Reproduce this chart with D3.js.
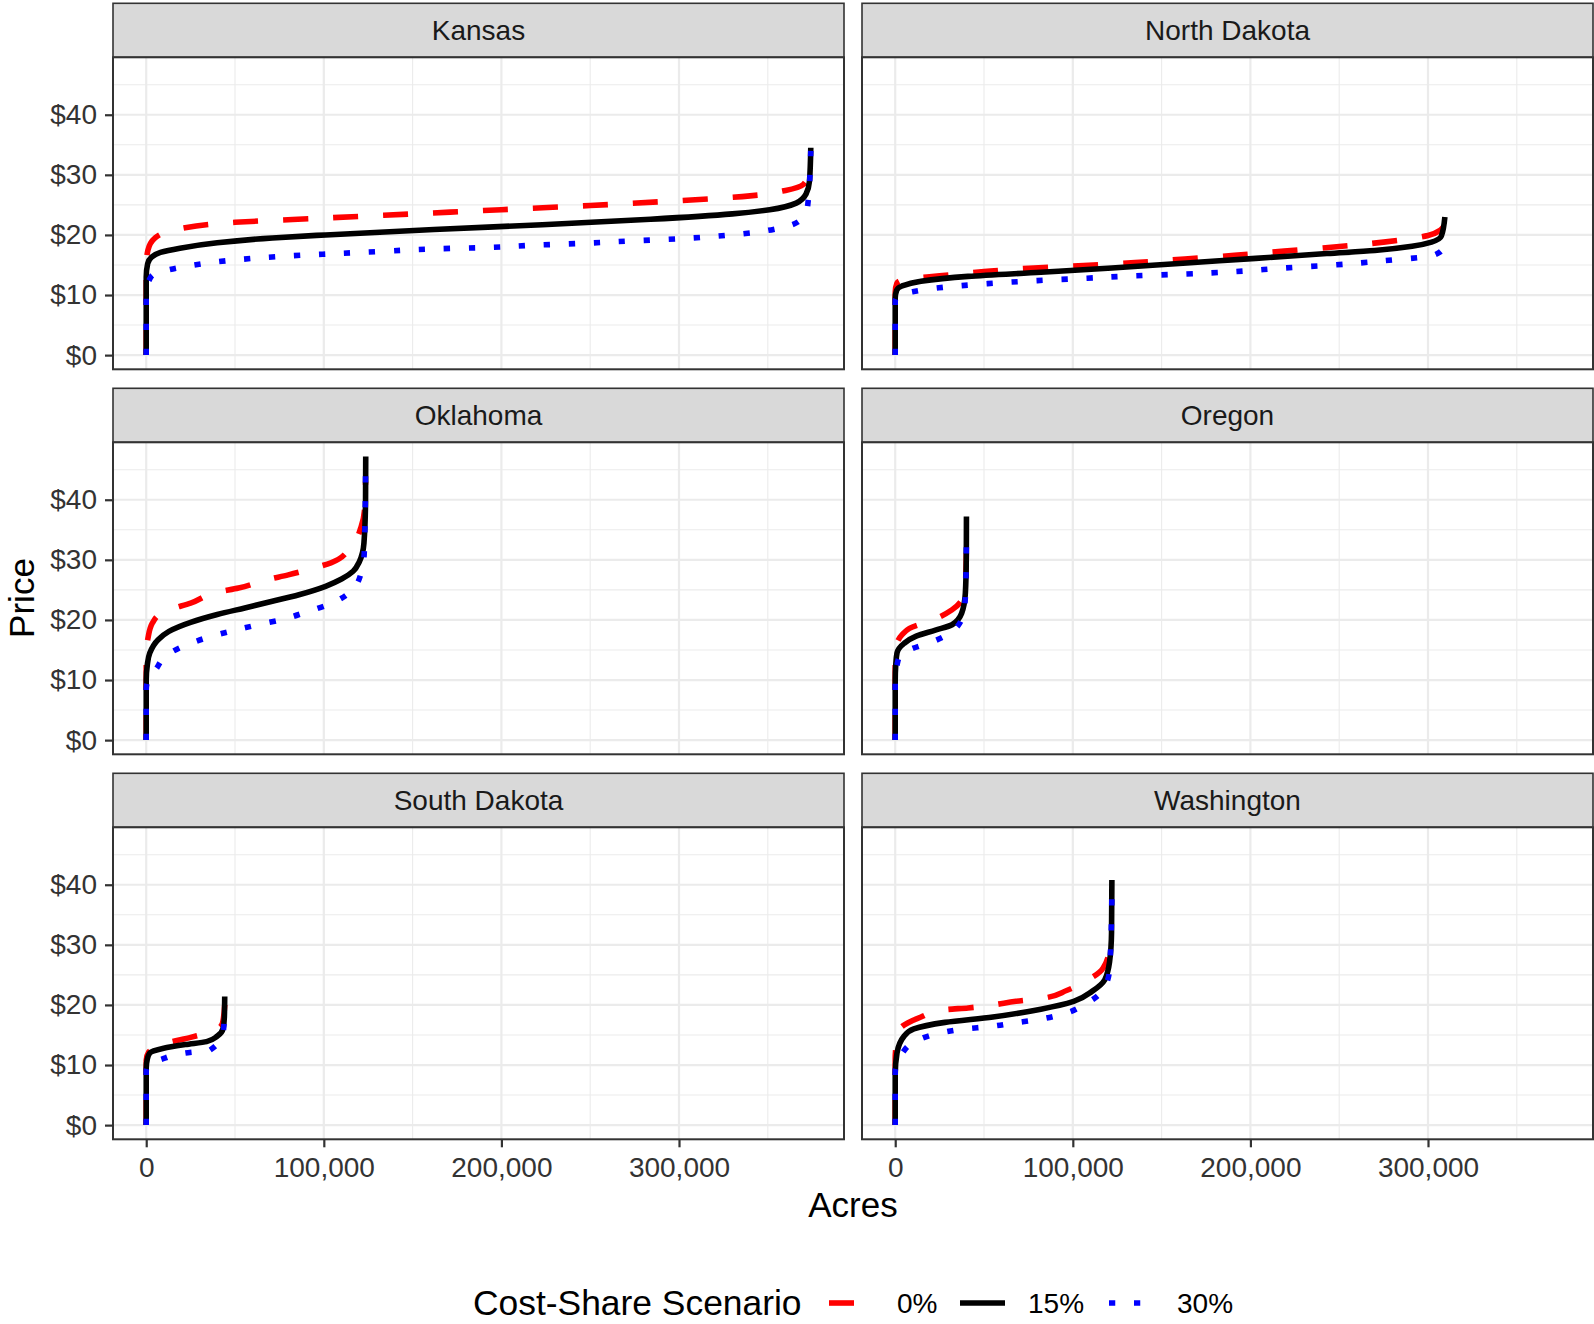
<!DOCTYPE html>
<html>
<head>
<meta charset="utf-8">
<script src="https://cdn.jsdelivr.net/npm/d3@7"></script>
<style>
  html, body { margin: 0; padding: 0; background: #fff; }
  svg { display: block; }
  text { font-family: "Liberation Sans", Arial, Helvetica, sans-serif; }
</style>
</head>
<body>
<svg id="chart" width="1594" height="1324"></svg>
<script>
// ---------------- DATA ----------------
const states = ["Kansas", "North Dakota", "Oklahoma", "Oregon", "South Dakota", "Washington"];
const scenarios = ["0%", "15%", "30%"];
const xTickValues = [0, 100000, 200000, 300000];
const xMinorValues = [50000, 150000, 250000, 350000];
const yTickValues = [0, 10, 20, 30, 40];
const yMinorValues = [5, 15, 25, 35, 45];

// [acres, price] pairs
const kansas_0 = [[0,0],[0,15],[1000,17.5],[5000,19.5],[20000,21.1],[50000,22.1],[100000,22.8],[150000,23.5],[200000,24.2],[250000,24.9],[300000,25.7],[340000,26.5],[360000,27.4],[370000,28.4],[373000,30],[374000,31]];
const kansas_15 = [[0,0],[0,13],[800,15.2],[3000,16.3],[8000,17.1],[19000,17.8],[40000,18.7],[71000,19.5],[101000,20],[162000,20.9],[223000,21.7],[284000,22.6],[330000,23.5],[351000,24.2],[366000,25.3],[371500,26.8],[373500,29],[374200,34.5]];
const kansas_30 = [[0,0],[0,11],[1500,12.4],[4000,13.4],[11000,14.1],[25000,14.9],[39000,15.5],[52000,15.9],[80000,16.5],[107000,16.9],[135000,17.3],[164000,17.7],[191000,17.9],[219000,18.3],[246000,18.6],[273000,19],[302000,19.4],[329000,20],[342000,20.4],[356000,21.1],[368000,22.4],[372500,25],[374200,34]];

const northDakota_0 = [[0,0],[0,10.5],[1000,12],[5000,12.6],[25000,13.2],[50000,13.9],[78000,14.5],[106000,14.9],[135000,15.4],[163000,16],[191000,16.6],[219000,17.3],[247000,18],[275000,18.8],[300000,19.9],[307000,20.8],[309000,21.5]];
const northDakota_15 = [[0,0],[0,9.5],[800,10.8],[3800,11.5],[14500,12.3],[41000,13.1],[82000,13.8],[122000,14.5],[162000,15.3],[203000,16.1],[243000,16.9],[270000,17.4],[291000,18.1],[302000,18.8],[307500,19.8],[309500,23]];
const northDakota_30 = [[0,0],[0,9],[2000,10],[10500,10.6],[24500,11.2],[52000,11.9],[80000,12.4],[108000,12.8],[135000,13.2],[164000,13.5],[191000,13.9],[219000,14.5],[247000,15],[275000,15.7],[303000,16.6],[308500,17.8],[310000,20]];

const oklahoma_0 = [[0,0],[0,14],[1000,17],[3500,19.5],[8000,21],[12800,21.7],[25000,22.8],[40000,24.6],[52000,25.3],[68000,26.7],[80000,27.5],[94000,28.6],[104000,29.5],[115000,32],[121000,35.5],[123000,38.5],[123500,43]];
const oklahoma_15 = [[0,0],[0,10],[600,12.5],[2000,14.5],[6700,16.7],[12800,18.1],[25000,19.6],[40000,20.9],[55500,22],[71000,23.1],[86000,24.2],[101000,25.6],[110000,26.8],[116500,28.1],[120000,29.7],[122600,32.8],[123500,40],[123600,47.2]];
const oklahoma_30 = [[0,0],[0,8.4],[1500,10.3],[5200,11.7],[12800,14.4],[24000,16],[37000,17.3],[50000,18.3],[63000,19.2],[77000,20.1],[90000,21.3],[103000,22.6],[115000,24.7],[121000,27.8],[122800,31.4],[123500,44]];

const oregon_0 = [[0,0],[0,14],[1000,16.1],[4000,17.6],[8000,18.6],[22000,20.1],[32000,21.7],[38500,24],[39700,27],[40100,33]];
const oregon_15 = [[0,0],[0,10],[300,12.5],[1000,14.5],[5000,16.1],[11800,17.3],[22600,18.3],[32000,19.2],[37400,21.1],[39500,24.5],[40000,30],[40100,37.2]];
const oregon_30 = [[0,0],[0,10],[1000,12.5],[3000,14.2],[8600,15.1],[22000,16.5],[33000,18.3],[38700,21.4],[39700,25.3],[40100,34]];

const southDakota_0 = [[0,0],[0,10.8],[1500,12.2],[6700,12.9],[11000,13.6],[25000,14.6],[39000,15.8],[43000,17],[44200,20]];
const southDakota_15 = [[0,0],[0,9.5],[600,11],[2000,12],[9800,12.8],[22000,13.4],[34000,13.9],[40000,14.8],[43300,16.1],[44000,18],[44200,21.4]];
const southDakota_30 = [[0,0],[0,9],[2000,10.3],[8000,10.9],[22000,12],[36000,12.5],[43300,15.3],[44200,19.5]];

const washington_0 = [[0,0],[0,11],[2400,15.9],[7000,17],[13000,17.8],[28000,19.2],[41000,19.5],[55000,20],[68000,20.6],[83000,21.1],[96500,22.4],[107000,23.9],[117000,26.1],[121500,30.3]];
const washington_15 = [[0,0],[0,8.5],[1000,12],[5000,14.8],[10500,16],[28000,17.1],[55000,18],[82000,19.3],[100500,20.6],[111000,22.3],[118000,24.2],[120700,27.2],[121800,32],[122000,40.8]];
const washington_30 = [[0,0],[0,9],[1500,10.5],[3800,11.9],[13000,14.2],[25000,15.3],[39000,16],[53000,16.4],[67000,17],[81000,17.6],[94600,18.5],[106700,20.1],[116700,22.4],[120700,25.9],[122000,38]];

const stateSeries = {
  "Kansas": [kansas_0, kansas_15, kansas_30],
  "North Dakota": [northDakota_0, northDakota_15, northDakota_30],
  "Oklahoma": [oklahoma_0, oklahoma_15, oklahoma_30],
  "Oregon": [oregon_0, oregon_15, oregon_30],
  "South Dakota": [southDakota_0, southDakota_15, southDakota_30],
  "Washington": [washington_0, washington_15, washington_30]
};

// ---------------- LAYOUT / STYLE ----------------
const svg = d3.select("#chart");
const colLeft = [113, 862];
const panelW = 731;
const rowTop = [3.3, 388.3, 773.3];
const stripH = 54;
const panelH = 312;

const styles = [
  { color: "#FF0000", dash: "25,25" },
  { color: "#000000", dash: null },
  { color: "#0000FF", dash: "6.25,18.75" }
];
const lineW = 5.6;

const allPts = Object.values(stateSeries).flat(2);
const xExt = d3.extent(allPts, d => d[0]);
const yExt = d3.extent(allPts, d => d[1]);
const xPad = (xExt[1] - xExt[0]) * 0.05;
const yPad = (yExt[1] - yExt[0]) * 0.05;

const x = d3.scaleLinear().domain([xExt[0] - xPad, xExt[1] + xPad]).range([0, panelW]);
const y = d3.scaleLinear().domain([yExt[0] - yPad, yExt[1] + yPad]).range([panelH, 0]);

const line = d3.line().x(d => x(d[0])).y(d => y(d[1])).curve(d3.curveMonotoneY);

const defs = svg.append("defs");
defs.append("clipPath").attr("id", "pclip")
  .append("rect").attr("x", 0).attr("y", 0).attr("width", panelW).attr("height", panelH);

states.forEach((st, i) => {
  const c = i % 2, r = Math.floor(i / 2);
  const gx = colLeft[c], gy = rowTop[r];

  // strip
  svg.append("rect").attr("x", gx).attr("y", gy).attr("width", panelW).attr("height", stripH)
    .attr("fill", "#D9D9D9").attr("stroke", "#333333").attr("stroke-width", 1.6);
  svg.append("text").attr("x", gx + panelW / 2).attr("y", gy + stripH / 2)
    .attr("text-anchor", "middle").attr("dominant-baseline", "central")
    .attr("font-size", 28).attr("fill", "#1A1A1A").text(st);

  const g = svg.append("g").attr("transform", `translate(${gx},${gy + stripH})`);
  g.append("rect").attr("width", panelW).attr("height", panelH).attr("fill", "#fff");

  // grid
  g.selectAll(".ymin").data(yMinorValues).enter().append("line")
    .attr("x1", 0).attr("x2", panelW).attr("y1", d => y(d)).attr("y2", d => y(d))
    .attr("stroke", "#EBEBEB").attr("stroke-width", 1.1);
  g.selectAll(".xmin").data(xMinorValues).enter().append("line")
    .attr("y1", 0).attr("y2", panelH).attr("x1", d => x(d)).attr("x2", d => x(d))
    .attr("stroke", "#EBEBEB").attr("stroke-width", 1.1);
  g.selectAll(".ymaj").data(yTickValues).enter().append("line")
    .attr("x1", 0).attr("x2", panelW).attr("y1", d => y(d)).attr("y2", d => y(d))
    .attr("stroke", "#EBEBEB").attr("stroke-width", 2.2);
  g.selectAll(".xmaj").data(xTickValues).enter().append("line")
    .attr("y1", 0).attr("y2", panelH).attr("x1", d => x(d)).attr("x2", d => x(d))
    .attr("stroke", "#EBEBEB").attr("stroke-width", 2.2);

  // lines
  const lg = g.append("g").attr("clip-path", "url(#pclip)");
  stateSeries[st].forEach((pts, k) => {
    lg.append("path").datum(pts).attr("d", line)
      .attr("fill", "none").attr("stroke", styles[k].color)
      .attr("stroke-width", lineW).attr("stroke-linecap", "butt").attr("stroke-linejoin", "round")
      .attr("stroke-dasharray", styles[k].dash);
  });

  // border
  g.append("rect").attr("width", panelW).attr("height", panelH)
    .attr("fill", "none").attr("stroke", "#333333").attr("stroke-width", 2);

  // y axis (left column)
  if (c === 0) {
    const ya = d3.axisLeft(y).tickValues(yTickValues).tickSize(8).tickPadding(8).tickFormat(d => "$" + d);
    const yg = g.append("g").call(ya);
    yg.select(".domain").remove();
    yg.selectAll(".tick line").attr("stroke", "#333333").attr("stroke-width", 2.2);
    yg.selectAll(".tick text").attr("font-size", 28).attr("fill", "#333333")
      .attr("font-family", "'Liberation Sans', Arial, sans-serif");
  }
  // x axis (bottom row)
  if (r === 2) {
    const xa = d3.axisBottom(x).tickValues(xTickValues).tickSize(8).tickPadding(10).tickFormat(d3.format(","));
    const xg = g.append("g").attr("transform", `translate(0,${panelH})`).call(xa);
    xg.select(".domain").remove();
    xg.selectAll(".tick line").attr("stroke", "#333333").attr("stroke-width", 2.2);
    xg.selectAll(".tick text").attr("font-size", 28).attr("fill", "#333333")
      .attr("font-family", "'Liberation Sans', Arial, sans-serif");
  }
});

// axis titles
svg.append("text").attr("x", (colLeft[0] + colLeft[1] + panelW) / 2).attr("y", 1217)
  .attr("text-anchor", "middle").attr("font-size", 35).attr("fill", "#000").text("Acres");
svg.append("text").attr("transform", "translate(34,598) rotate(-90)")
  .attr("text-anchor", "middle").attr("font-size", 35).attr("fill", "#000").text("Price");

// legend
const legY = 1303;
svg.append("text").attr("x", 473).attr("y", legY).attr("dominant-baseline", "central")
  .attr("font-size", 35.4).attr("fill", "#000").text("Cost-Share Scenario");
const keyX = [829, 960, 1109];
scenarios.forEach((s, k) => {
  svg.append("line").attr("x1", keyX[k]).attr("x2", keyX[k] + 45).attr("y1", legY).attr("y2", legY)
    .attr("stroke", styles[k].color).attr("stroke-width", lineW).attr("stroke-linecap", "butt")
    .attr("stroke-dasharray", styles[k].dash);
  svg.append("text").attr("x", keyX[k] + 68).attr("y", legY).attr("dominant-baseline", "central")
    .attr("font-size", 28).attr("fill", "#000").text(s);
});
</script>
</body>
</html>
